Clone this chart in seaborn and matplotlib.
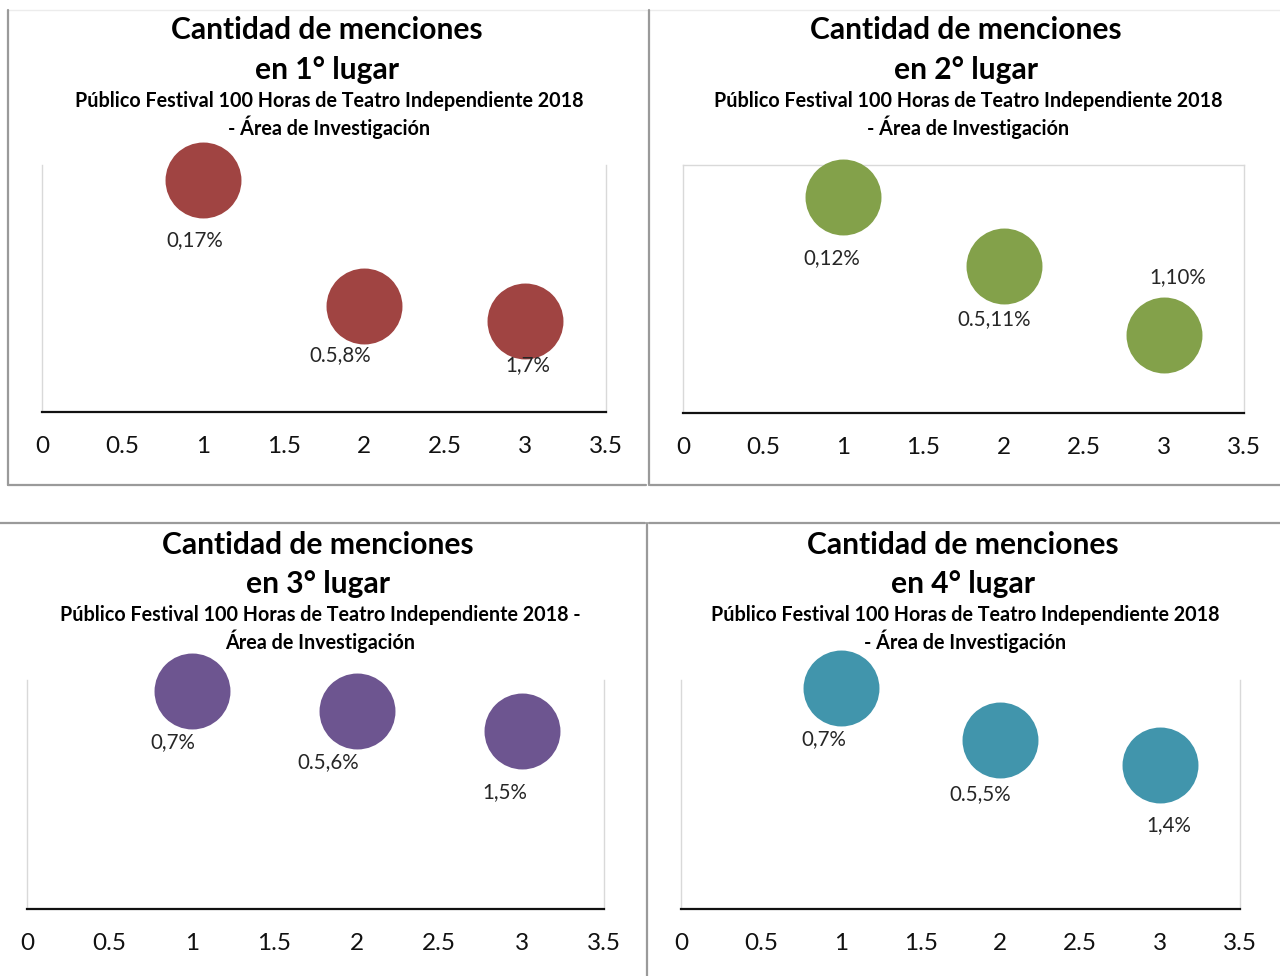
import matplotlib
matplotlib.use("Agg")
import matplotlib.pyplot as plt
from matplotlib.lines import Line2D
import seaborn as sns
import pandas as pd

sns.set_theme(style="white")
plt.rcParams["font.family"] = ["Lato", "DejaVu Sans"]

# ---- data -------------------------------------------------------------
positions = [1, 2, 3]
label_prefix = ["0", "0.5", "1"]
pct_1st = [17, 8, 7]
pct_2nd = [12, 11, 10]
pct_3rd = [7, 6, 5]
pct_4th = [7, 5, 4]
places = ["1°", "2°", "3°", "4°"]
colors = ["#A04442", "#83A14A", "#6D5590", "#4195AC"]
x_ticks = [0, 0.5, 1, 1.5, 2, 2.5, 3, 3.5]
x_tick_labels = ["0", "0.5", "1", "1.5", "2", "2.5", "3", "3.5"]
subtitle_a = "Público Festival 100 Horas de Teatro Independiente 2018\n- Área de Investigación"
subtitle_b = "Público Festival 100 Horas de Teatro Independiente 2018 -\nÁrea de Investigación"

W, H = 1280, 976
fig = plt.figure(figsize=(W / 100, H / 100), dpi=100)
fig.patch.set_facecolor("white")


def fx(px):
    return px / W


def fy(py):
    return 1 - py / H


# panel layout: plot box (left, right, top, bottom) in px, y-limits,
# title centre x, title rows, label offsets (px)
panels = [
    dict(vals=pct_1st, box=(42, 606, 165, 412), ylim=(0.5, 18.05), cx=327,
         ty=(30, 70, 101, 127), sub=subtitle_a, topline=False,
         offs=[(-8, -60), (-24, -49), (2, -45)]),
    dict(vals=pct_2nd, box=(683, 1244, 165, 413), ylim=(8.87, 12.46), cx=966,
         ty=(30, 70, 101, 127), sub=subtitle_a, topline=True,
         offs=[(-12, -61), (-9, -53), (14, 58)]),
    dict(vals=pct_3rd, box=(27, 604, 680, 909), ylim=(-3.9, 7.55), cx=318,
         ty=(545, 584, 615, 641), sub=subtitle_b, topline=False,
         offs=[(-19, -51), (-29, -51), (-17, -61)]),
    dict(vals=pct_4th, box=(681, 1240, 680, 909), ylim=(-1.59, 7.32), cx=963,
         ty=(545, 584, 615, 641), sub=subtitle_a, topline=False,
         offs=[(-17, -51), (-20, -54), (9, -60)]),
]

for i, p in enumerate(panels):
    l, r, t, b = p["box"]
    ax = fig.add_axes([fx(l), fy(b), (r - l) / W, (b - t) / H])
    df = pd.DataFrame({"x": positions, "y": p["vals"]})
    sns.scatterplot(data=df, x="x", y="y", ax=ax, s=2990, color=colors[i],
                    linewidth=0, legend=False, clip_on=False, zorder=3)
    ax.set_xlim(0, 3.5)
    ax.set_ylim(*p["ylim"])
    ax.set_xticks(x_ticks)
    ax.set_xticklabels(x_tick_labels)
    ax.set_yticks([])
    ax.set_xlabel("")
    ax.set_ylabel("")
    ax.tick_params(axis="x", length=0, pad=17, labelsize=17.5, labelcolor="#111111")
    ax.set_facecolor("none")
    for side in ["left", "right", "top"]:
        ax.spines[side].set_color("#d9d9d9")
        ax.spines[side].set_linewidth(1.0)
    ax.spines["top"].set_visible(p["topline"])
    ax.spines["bottom"].set_color("#111111")
    ax.spines["bottom"].set_linewidth(1.6)

    for xv, yv, pre, (dx, dy) in zip(positions, p["vals"], label_prefix, p["offs"]):
        ax.annotate(f"{pre},{yv}%", (xv, yv), xytext=(dx, dy),
                    textcoords="offset pixels", ha="center", va="center",
                    fontsize=14.8, color="#262626", zorder=4)

    t1, t2, s1, s2 = p["ty"]
    fig.text(fx(p["cx"]), fy(t1), "Cantidad de menciones", ha="center", va="center",
             fontsize=21.6, fontweight="bold", color="#000000")
    fig.text(fx(p["cx"]), fy(t2), f"en {places[i]} lugar", ha="center", va="center",
             fontsize=21.6, fontweight="bold", color="#000000")
    sub1, sub2 = p["sub"].split("\n")
    fig.text(fx(p["cx"] + 2), fy(s1), sub1, ha="center", va="center",
             fontsize=14.2, fontweight="bold", color="#000000")
    fig.text(fx(p["cx"] + 2), fy(s2), sub2, ha="center", va="center",
             fontsize=14.2, fontweight="bold", color="#000000")

# chart-area frames
frame = "#9a9a9a"


def seg(x0, y0, x1, y1, color=frame, lw=1.6):
    fig.add_artist(Line2D([fx(x0), fx(x1)], [fy(y0), fy(y1)], color=color, lw=lw))


seg(8, 10, 1280, 10, color="#ececec", lw=1.0)
seg(8, 10, 8, 485)
seg(8, 485, 646, 485)
seg(649, 10, 649, 485)
seg(650, 485, 1280, 485)
seg(0, 523, 645, 523)
seg(649, 523, 1280, 523)
seg(647, 523, 647, 976)

fig.savefig("out.png", dpi=100, facecolor="white")
